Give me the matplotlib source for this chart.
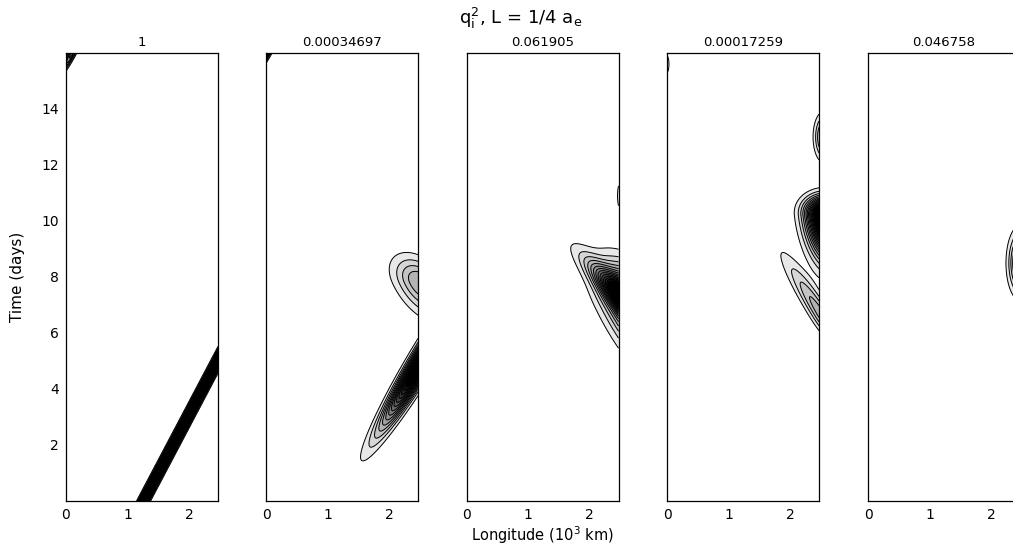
import numpy as np
import matplotlib
matplotlib.use('Agg')
import matplotlib.pyplot as plt

plt.rcParams['font.family'] = ['DejaVu Sans']
plt.rcParams['mathtext.default'] = 'regular'

# normalisation of each panel (printed above it)
panel_titles = ['1', '0.00034697', '0.061905', '0.00017259', '0.046758']

# wave packets in each panel:
# (x0, t0, speed dx/dt, sigma_x, sigma_t below t0, sigma_t above t0, amplitude)
blobs_1 = [(1.26, 0.0, 0.24, 0.046, 1e3, 1e3, 1.6),
           (0.10, 16.0, 0.24, 0.040, 0.5, 5.0, 0.45)]
blobs_2 = [(0.00, 16.0, 0.25, 0.045, 0.5, 5.0, 0.8),
           (2.50, 7.8, -0.20, 0.25, 0.8, 0.60, 0.35),
           (2.62, 5.3, 0.27, 0.12, 1.6, 1.0, 1.3)]
blobs_3 = [(2.80, 6.7, -0.42, 0.16, 1.0, 1.05, 1.0),
           (2.75, 7.0, -0.21, 0.30, 1.5, 0.9, 0.9),
           (2.62, 10.9, 0.0, 0.08, 0.4, 0.4, 0.6)]
blobs_4 = [(-0.03, 15.6, 0.0, 0.05, 0.3, 0.3, 0.15),
           (2.56, 13.0, 0.0, 0.10, 0.5, 0.5, 0.4),
           (2.62, 10.2, -0.05, 0.22, 1.0, 0.4, 1.6),
           (2.52, 6.6, -0.28, 0.12, 0.8, 1.3, 0.32)]
blobs_5 = [(2.48, 8.5, 0.0, 0.12, 0.68, 0.68, 0.5)]
panel_blobs = [blobs_1, blobs_2, blobs_3, blobs_4, blobs_5]

x_max = 2.47
t_max = 16.0
y_ticks = [2, 4, 6, 8, 10, 12, 14]
x_ticks = [0, 1, 2]

# contour levels and gray fills (white below the first level)
levels = np.arange(1, 15) * 0.07
n_lev = len(levels)
grays = [str(g) for g in np.linspace(0.91, 0.0, n_lev)]

x = np.linspace(0, x_max, 400)
t = np.linspace(0, t_max, 800)
X, T = np.meshgrid(x, t)


def packet_field(blobs):
    Z = np.zeros_like(X)
    for x0, t0, c, sx, st_lo, st_hi, amp in blobs:
        st = np.where(T < t0, st_lo, st_hi)
        u = (X - x0 - c * (T - t0)) / sx
        v = (T - t0) / st
        Z += amp * np.exp(-0.5 * (u ** 2 + v ** 2))
    return Z


fig = plt.figure(figsize=(10.13, 5.46), dpi=100)
W, H = 1013.0, 546.0
lefts = [66, 266, 466.5, 667, 868]

for i, blobs in enumerate(panel_blobs):
    ax = fig.add_axes([lefts[i] / W, 45 / H, 152 / W, 448 / H])
    Z = packet_field(blobs)
    ax.contourf(X, T, Z, levels=list(levels) + [Z.max() + 1], colors=grays)
    ax.contour(X, T, Z, levels=levels, colors='k', linewidths=0.7)
    ax.set_xlim(0, x_max)
    ax.set_ylim(0, t_max)
    ax.set_xticks(x_ticks)
    ax.set_yticks(y_ticks)
    if i > 0:
        ax.set_yticklabels([])
    ax.tick_params(length=0, labelsize=10, pad=5)
    for s in ax.spines.values():
        s.set_linewidth(0.9)
    ax.set_title(panel_titles[i], fontsize=9.5, pad=5)

fig.text(521 / W, 1 - 18 / H, r'$q_i^2$, L = 1/4 a$_e$', fontsize=13,
         ha='center', va='center')
fig.text(542 / W, 1 - 535 / H, r'Longitude (10$^3$ km)', fontsize=10.5,
         ha='center', va='center')
fig.text(18 / W, 1 - 277 / H, 'Time (days)', fontsize=11, rotation=90,
         ha='center', va='center',
         family=['Liberation Sans Narrow', 'DejaVu Sans'])

fig.savefig('out.png', dpi=100)
